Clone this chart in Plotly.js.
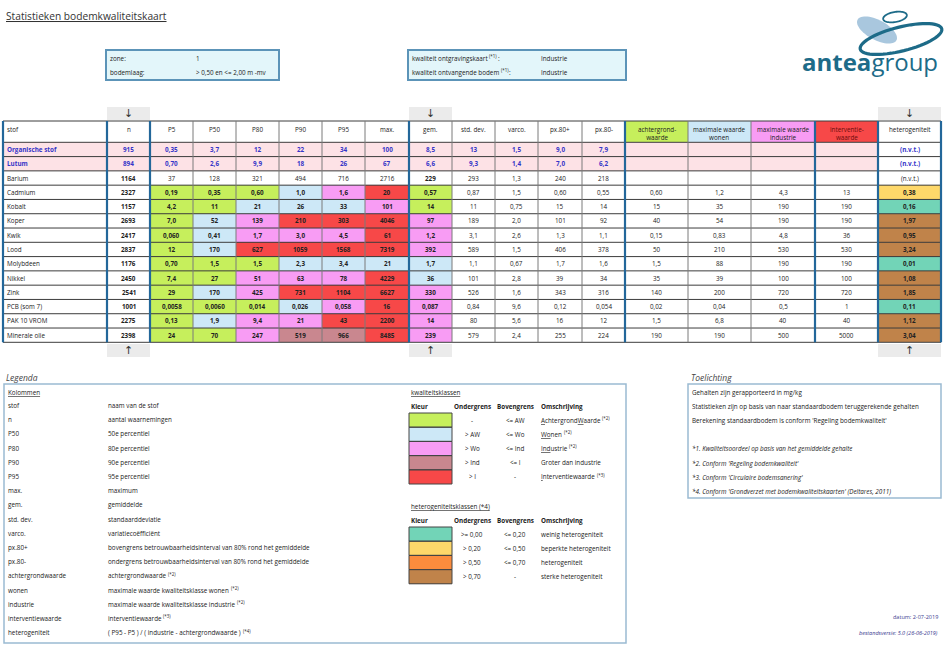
<!DOCTYPE html>
<html><head><meta charset="utf-8">
<script src="https://cdn.plot.ly/plotly-3.0.1.min.js"></script>
<style>html,body{margin:0;padding:0;background:#fff}#chart{width:947px;height:648px}</style>
</head><body><div id="chart"></div>
<script>
// ---------------- DATA ----------------
const stof = ["Organische stof","Lutum","Barium","Cadmium","Kobalt","Koper","Kwik","Lood","Molybdeen","Nikkel","Zink","PCB (som 7)","PAK 10 VROM","Minerale olie"];
const organicRow = [true,true,false,false,false,false,false,false,false,false,false,false,false,false];
const n      = ["915","894","1164","2327","1157","2693","2417","2837","1176","2450","2541","1001","2275","2398"];
const P5     = ["0,35","0,70","37","0,19","4,2","7,0","0,060","12","0,70","7,4","29","0,0058","0,13","24"];
const P50    = ["3,7","2,6","128","0,35","11","52","0,41","170","1,5","27","170","0,0060","1,9","70"];
const P80    = ["12","9,9","321","0,60","21","139","1,7","627","1,5","51","425","0,014","9,4","247"];
const P90    = ["22","18","494","1,0","26","210","3,0","1059","2,3","63","731","0,026","21","519"];
const P95    = ["34","26","716","1,6","33","303","4,5","1568","3,4","78","1104","0,058","43","966"];
const maxv   = ["100","67","2716","20","101","4046","61","7319","21","4229","6627","16","2200","8485"];
const gem    = ["8,5","6,6","229","0,57","14","97","1,2","392","1,7","36","330","0,087","14","239"];
const stdDev = ["13","9,3","293","0,87","11","189","3,1","589","1,1","101","526","0,84","80","579"];
const varco  = ["1,5","1,4","1,3","1,5","0,75","2,0","2,6","1,5","0,67","2,8","1,6","9,6","5,6","2,4"];
const pxPlus = ["9,0","7,0","240","0,60","15","101","1,3","406","1,7","39","343","0,12","16","255"];
const pxMin  = ["7,9","6,2","218","0,55","14","92","1,1","378","1,6","34","316","0,054","12","224"];
const AW     = ["","","","0,60","15","40","0,15","50","1,5","35","140","0,02","1,5","190"];
const Wo     = ["","","","1,2","35","54","0,83","210","88","39","200","0,04","6,8","190"];
const Ind    = ["","","","4,3","190","190","4,8","530","190","100","720","0,5","40","500"];
const Iw     = ["","","","13","190","190","36","530","190","100","720","1","40","5000"];
const het    = ["(n.v.t.)","(n.v.t.)","(n.v.t.)","0,38","0,16","1,97","0,95","3,24","0,01","1,08","1,85","0,11","1,12","3,04"];

// quality classes (G=achtergrond, B=wonen, P=industrie, M=groter dan industrie, R=interventie)
const P5cls  = ["","","","G","G","G","G","G","G","G","G","G","G","G"];
const P50cls = ["","","","G","G","B","B","B","G","G","B","G","B","G"];
const P80cls = ["","","","G","B","P","P","R","G","P","P","G","P","P"];
const P90cls = ["","","","B","B","R","P","R","B","P","R","B","P","M"];
const P95cls = ["","","","P","B","R","P","R","B","P","R","P","R","M"];
const maxCls = ["","","","R","P","R","R","R","B","R","R","R","R","R"];
const gemCls = ["","","","G","G","P","P","P","B","B","P","P","P","P"];
const hetCls = ["","","","Y","T","Br","Br","Br","T","Br","Br","T","Br","Br"];

const headers = ["stof","n","P5","P50","P80","P90","P95","max.","gem.","std. dev.","varco.","px.80+","px.80-",
  "achtergrond-<br>waarde","maximale waarde<br>wonen","maximale waarde<br>industrie","interventie-<br>waarde","heterogeniteit"];
const headerCls = ["","","","","","","","","","","","","","G","B","P","R",""];

const kolomLabels = ["stof","n","P50","P80","P90","P95","max.","gem.","std. dev.","varco.","px.80+","px.80-","achtergrondwaarde","wonen","industrie","interventiewaarde","heterogeniteit"];
const kolomDesc = ["naam van de stof","aantal waarnemingen","50e percentiel","80e percentiel","90e percentiel","95e percentiel","maximum","gemiddelde","standaarddeviatie","variatieco\u00ebffici\u00ebnt",
  "bovengrens betrouwbaarheidsinterval van 80% rond het gemiddelde","ondergrens betrouwbaarheidsinterval van 80% rond het gemiddelde",
  "achtergrondwaarde","maximale waarde kwaliteitsklasse wonen","maximale waarde kwaliteitsklasse industrie",
  "interventiewaarde","( P95 - P5 ) / ( industrie - achtergrondwaarde )"];
const kolomNote = ["","","","","","","","","","","","","(*2)","(*2)","(*2)","(*3)","(*4)"];

const qualCls = ["G","B","P","M","R"];
const qualLower = ["-","&gt; AW","&gt; Wo","&gt; Ind","&gt; I"];
const qualUpper = ["&lt;= AW","&lt;= Wo","&lt;= Ind","&lt;= I","-"];
const qualDesc = ["<u>A</u>chtergrond<u>W</u>aarde","<u>Wo</u>nen","<u>Ind</u>ustrie","Groter dan industrie","<u>I</u>nterventiewaarde"];
const qualNote = ["(*2)","(*2)","(*2)","","(*3)"];
const hetLegCls = ["T","Y","O","Br"];
const hetLower = ["&gt;= 0,00","&gt; 0,20","&gt; 0,50","&gt; 0,70"];
const hetUpper = ["&lt;= 0,20","&lt;= 0,50","&lt;= 0,70","-"];
const hetDesc = ["weinig heterogeniteit","beperkte heterogeniteit","heterogeniteit","sterke heterogeniteit"];

const toelichting = ["Gehalten zijn gerapporteerd in mg/kg","Statistieken zijn op basis van naar standaardbodem teruggerekende gehalten",
  "Berekening standaardbodem is conform 'Regeling bodemkwaliteit'","",
  "<i>*1. Kwaliteitsoordeel op basis van het gemiddelde gehalte</i>","<i>*2. Conform 'Regeling bodemkwaliteit'</i>",
  "<i>*3. Conform 'Circulaire bodemsanering'</i>","<i>*4. Conform 'Grondverzet met bodemkwaliteitskaarten' (Deltares, 2011)</i>"];

// ---------------- STYLE / LAYOUT ----------------
const FONT = '"Open Sans", "Noto Sans", sans-serif';
const FS = 6.3;
const SUPFS = 4.4;
const palette = {W:'#ffffff', Org:'#fde2e6', G:'#c6ef5c', B:'#cde8f7', P:'#f89cf4', M:'#c9878f', R:'#f74848', T:'#72d4b7', Y:'#fed86a', O:'#fb8c3d', Br:'#c0834a'};
const keys = Object.keys(palette);
const K = keys.length;
const colorscale = [];
keys.forEach((k,i)=>{ colorscale.push([i/K, palette[k]]); colorscale.push([(i+1)/K, palette[k]]); });
const idx = k => keys.indexOf(k) + 0.5;

const colEdges = [3,107,150,193,236,279,322,365,409,452,495,538,582,625,688,751,815,878,941];
const blueEdges = [0,1,2,8,13,16,17,18];
const headerTop = 121, headerBottom = 142.3, rowH = 14.286;
const rowEdges = [headerTop, headerBottom];
for (let i=1;i<=stof.length;i++) rowEdges.push(headerBottom + i*rowH);

const cols = [stof,n,P5,P50,P80,P90,P95,maxv,gem,stdDev,varco,pxPlus,pxMin,AW,Wo,Ind,Iw,het];
const clsCols = [null,null,P5cls,P50cls,P80cls,P90cls,P95cls,maxCls,gemCls,null,null,null,null,null,null,null,null,hetCls];

const annotations = [];
const shapes = [];
function txt(x,y,text,o){ o=o||{}; annotations.push({x:x,y:y,xref:'x',yref:'y',text:text,showarrow:false,
  xanchor:o.xa||'left',yanchor:o.ya||'middle',align:o.align||'left',
  font:{family:o.family||FONT,size:o.size||FS,color:o.color||'#222'}}); }
// text measuring for superscript notes placed after a text
const ctx = document.createElement('canvas').getContext('2d');
function measure(s,size){ ctx.font = size+'px "Open Sans"'; return ctx.measureText(s.replace(/<[^>]*>/g,'').replace(/&gt;/g,'>').replace(/&lt;/g,'<')).width; }
function txtNote(x,y,main,note,tail){
  txt(x,y,main);
  if(!note) return;
  const w = measure(main,FS);
  const xs = x + w + 1.8;
  txt(xs, y-2.2, note, {size:SUPFS});
  if (tail) txt(xs + measure(note,SUPFS) + 0.6, y, tail);
}

// table heatmap z
const zTable = [headerCls.map(c => idx(c||'W'))];
for (let r=0;r<stof.length;r++){
  const row=[];
  for (let j=0;j<cols.length;j++){
    const c = clsCols[j] ? clsCols[j][r] : '';
    if (c) row.push(idx(c));
    else if (organicRow[r] && j<17) row.push(idx('Org'));
    else row.push(idx('W'));
  }
  zTable.push(row);
}

// header text
headers.forEach((h,j)=>{
  if (j===0) txt(colEdges[0]+2, headerTop+1.5, h, {ya:'top'});
  else txt((colEdges[j]+colEdges[j+1])/2, headerTop+1.5, h, {xa:'center', ya:'top', align:'center', color: j===16 ? '#6a0c0c':'#222'});
});
// cell text
for (let r=0;r<stof.length;r++){
  const yc = (rowEdges[r+1]+rowEdges[r+2])/2;
  for (let j=0;j<cols.length;j++){
    let v = cols[j][r];
    if (!v) continue;
    const c = clsCols[j] ? clsCols[j][r] : '';
    const bold = organicRow[r] || j===1 || j===8 || (j===17 && r>2) || (c && j>=2 && j<=7);
    if (bold) v = '<b>'+v+'</b>';
    const color = organicRow[r] ? '#3434c8' : '#222';
    if (j===0) txt(colEdges[0]+2, yc, v, {color:color});
    else txt((colEdges[j]+colEdges[j+1])/2, yc, v, {xa:'center', color:color});
  }
}
// grid lines
rowEdges.forEach(y=>shapes.push({type:'line',xref:'x',yref:'y',x0:colEdges[0],x1:colEdges[colEdges.length-1],y0:y,y1:y,line:{color:'#3c3c3c',width:1}}));
colEdges.forEach((x,i)=>{ if(blueEdges.indexOf(i)<0) shapes.push({type:'line',xref:'x',yref:'y',x0:x,x1:x,y0:rowEdges[0],y1:rowEdges[rowEdges.length-1],line:{color:'#7a7a7a',width:1}}); });
colEdges.forEach((x,i)=>{ if(blueEdges.indexOf(i)>=0) shapes.push({type:'line',xref:'x',yref:'y',x0:x,x1:x,y0:rowEdges[0],y1:rowEdges[rowEdges.length-1],line:{color:'#23679a',width:2.2}}); });

// arrow boxes above/below n, gem., heterogeniteit
[1,8,17].forEach(j=>{
  shapes.push({type:'rect',xref:'x',yref:'y',x0:colEdges[j],x1:colEdges[j+1],y0:107,y1:120,fillcolor:'#ebebeb',line:{width:0},layer:'below'});
  shapes.push({type:'rect',xref:'x',yref:'y',x0:colEdges[j],x1:colEdges[j+1],y0:344,y1:357,fillcolor:'#ebebeb',line:{width:0},layer:'below'});
  txt((colEdges[j]+colEdges[j+1])/2, 113.5, '\u2193', {xa:'center', size:11, color:'#333', family:'"DejaVu Sans", "Liberation Sans", sans-serif'});
  txt((colEdges[j]+colEdges[j+1])/2, 350.5, '\u2191', {xa:'center', size:11, color:'#333', family:'"DejaVu Sans", "Liberation Sans", sans-serif'});
});

// title
txt(4, 16, '<u>Statistieken bodemkwaliteitskaart</u>', {size:10.2, color:'#333'});

// info boxes
shapes.push({type:'rect',xref:'x',yref:'y',x0:106,x1:279,y0:50,y1:80,fillcolor:'#e3f6fa',line:{color:'#5c94b8',width:2},layer:'below'});
shapes.push({type:'rect',xref:'x',yref:'y',x0:408,x1:626,y0:50,y1:80,fillcolor:'#e3f6fa',line:{color:'#5c94b8',width:2},layer:'below'});
txt(108,58,'zone:'); txt(194,58,'1');
txt(108,72,'bodemlaag:'); txt(194,72,'&gt; 0,50 en &lt;= 2,00 m -mv');
txtNote(410,58,'kwaliteit ontgravingskaart','(*1)',':'); txt(539,58,'Industrie');
txtNote(410,72,'kwaliteit ontvangende bodem','(*1)',':'); txt(539,72,'Industrie');

// logo
function ellipsePath(cx,cy,a,b,deg){
  const th=deg*Math.PI/180; let p='';
  for(let k=0;k<=60;k++){ const t=2*Math.PI*k/60;
    const x=cx+a*Math.cos(t)*Math.cos(th)-b*Math.sin(t)*Math.sin(th);
    const y=cy+a*Math.cos(t)*Math.sin(th)+b*Math.sin(t)*Math.cos(th);
    p += (k===0?'M':'L')+x.toFixed(2)+','+y.toFixed(2); }
  return p+'Z';
}
shapes.push({type:'path',xref:'x',yref:'y',path:ellipsePath(877,30,22,10,28),fillcolor:'#a9c7de',line:{width:0}});
shapes.push({type:'path',xref:'x',yref:'y',path:ellipsePath(901,39,42,12,-14),line:{color:'#1d6b88',width:3.2}});
shapes.push({type:'path',xref:'x',yref:'y',path:ellipsePath(895,17,12,5,-10),line:{color:'#1d6b88',width:1.8}});
txt(800, 61, '<b>antea</b>group', {size:24, color:'#1d6b88'});

// legend block
txt(4, 377, '<i>Legenda</i>', {size:8.5, color:'#444'});
shapes.push({type:'rect',xref:'x',yref:'y',x0:4,x1:626,y0:384,y1:643,line:{color:'#9bbad2',width:1.5}});
txt(6, 392, '<u>Kolommen</u>');
kolomLabels.forEach((l,i)=>{ const y=405.5+i*14.2; txt(6,y,l); txtNote(106,y,kolomDesc[i],kolomNote[i]); });

txt(409, 392, '<u>kwaliteitsklassen</u>');
[['Kleur',409,'left'],['Ondergrens',472,'center'],['Bovengrens',515,'center'],['Omschrijving',539,'left']].forEach(h=>txt(h[1],406,'<b>'+h[0]+'</b>',{xa:h[2]}));
const qualEdges=[]; for(let i=0;i<=qualCls.length;i++) qualEdges.push(413+i*14.2);
qualCls.forEach((c,i)=>{ const y=(qualEdges[i]+qualEdges[i+1])/2;
  txt(472,y,qualLower[i],{xa:'center'}); txt(515,y,qualUpper[i],{xa:'center'}); txtNote(539,y,qualDesc[i],qualNote[i]);
  shapes.push({type:'rect',xref:'x',yref:'y',x0:409,x1:452,y0:qualEdges[i],y1:qualEdges[i+1],line:{color:'#444',width:1}}); });

txt(409, 506, '<u>heterogeniteitsklassen (*4)</u>');
[['Kleur',409,'left'],['Ondergrens',472,'center'],['Bovengrens',515,'center'],['Omschrijving',539,'left']].forEach(h=>txt(h[1],520,'<b>'+h[0]+'</b>',{xa:h[2]}));
const hetEdges=[]; for(let i=0;i<=hetLegCls.length;i++) hetEdges.push(527+i*14.2);
hetLegCls.forEach((c,i)=>{ const y=(hetEdges[i]+hetEdges[i+1])/2;
  txt(472,y,hetLower[i],{xa:'center'}); txt(515,y,hetUpper[i],{xa:'center'}); txt(539,y,hetDesc[i]);
  shapes.push({type:'rect',xref:'x',yref:'y',x0:409,x1:452,y0:hetEdges[i],y1:hetEdges[i+1],line:{color:'#444',width:1}}); });

// toelichting
txt(689, 377, '<i>Toelichting</i>', {size:8.5, color:'#444'});
shapes.push({type:'rect',xref:'x',yref:'y',x0:688,x1:941,y0:384,y1:498,line:{color:'#9bbad2',width:1.5}});
toelichting.forEach((t,i)=>{ if(t) txt(690, 392+i*14.2, t); });

txt(940, 617, 'datum: 2-07-2019', {xa:'right', size:5.5, color:'#3b3b8f'});
txt(940, 633, '<i>bestandsversie: 5.0 (26-06-2019)</i>', {xa:'right', size:5.5, color:'#3b3b8f'});

// ---------------- TRACES ----------------
const hm = (x,y,z)=>({type:'heatmap',x:x,y:y,z:z,zmin:0,zmax:K,colorscale:colorscale,showscale:false,hoverinfo:'skip'});
const traces = [
  hm(colEdges,rowEdges,zTable),
  hm([409,452],qualEdges,qualCls.map(c=>[idx(c)])),
  hm([409,452],hetEdges,hetLegCls.map(c=>[idx(c)]))
];

const layout = {
  width:947,height:648,margin:{l:0,r:0,t:0,b:0},
  paper_bgcolor:'#ffffff',plot_bgcolor:'#ffffff',showlegend:false,
  xaxis:{range:[0,947],visible:false,fixedrange:true,domain:[0,1]},
  yaxis:{range:[648,0],visible:false,fixedrange:true,domain:[0,1]},
  shapes:shapes, annotations:annotations, font:{family:FONT}
};
Plotly.newPlot('chart',traces,layout,{displayModeBar:false,staticPlot:true});
</script></body></html>
